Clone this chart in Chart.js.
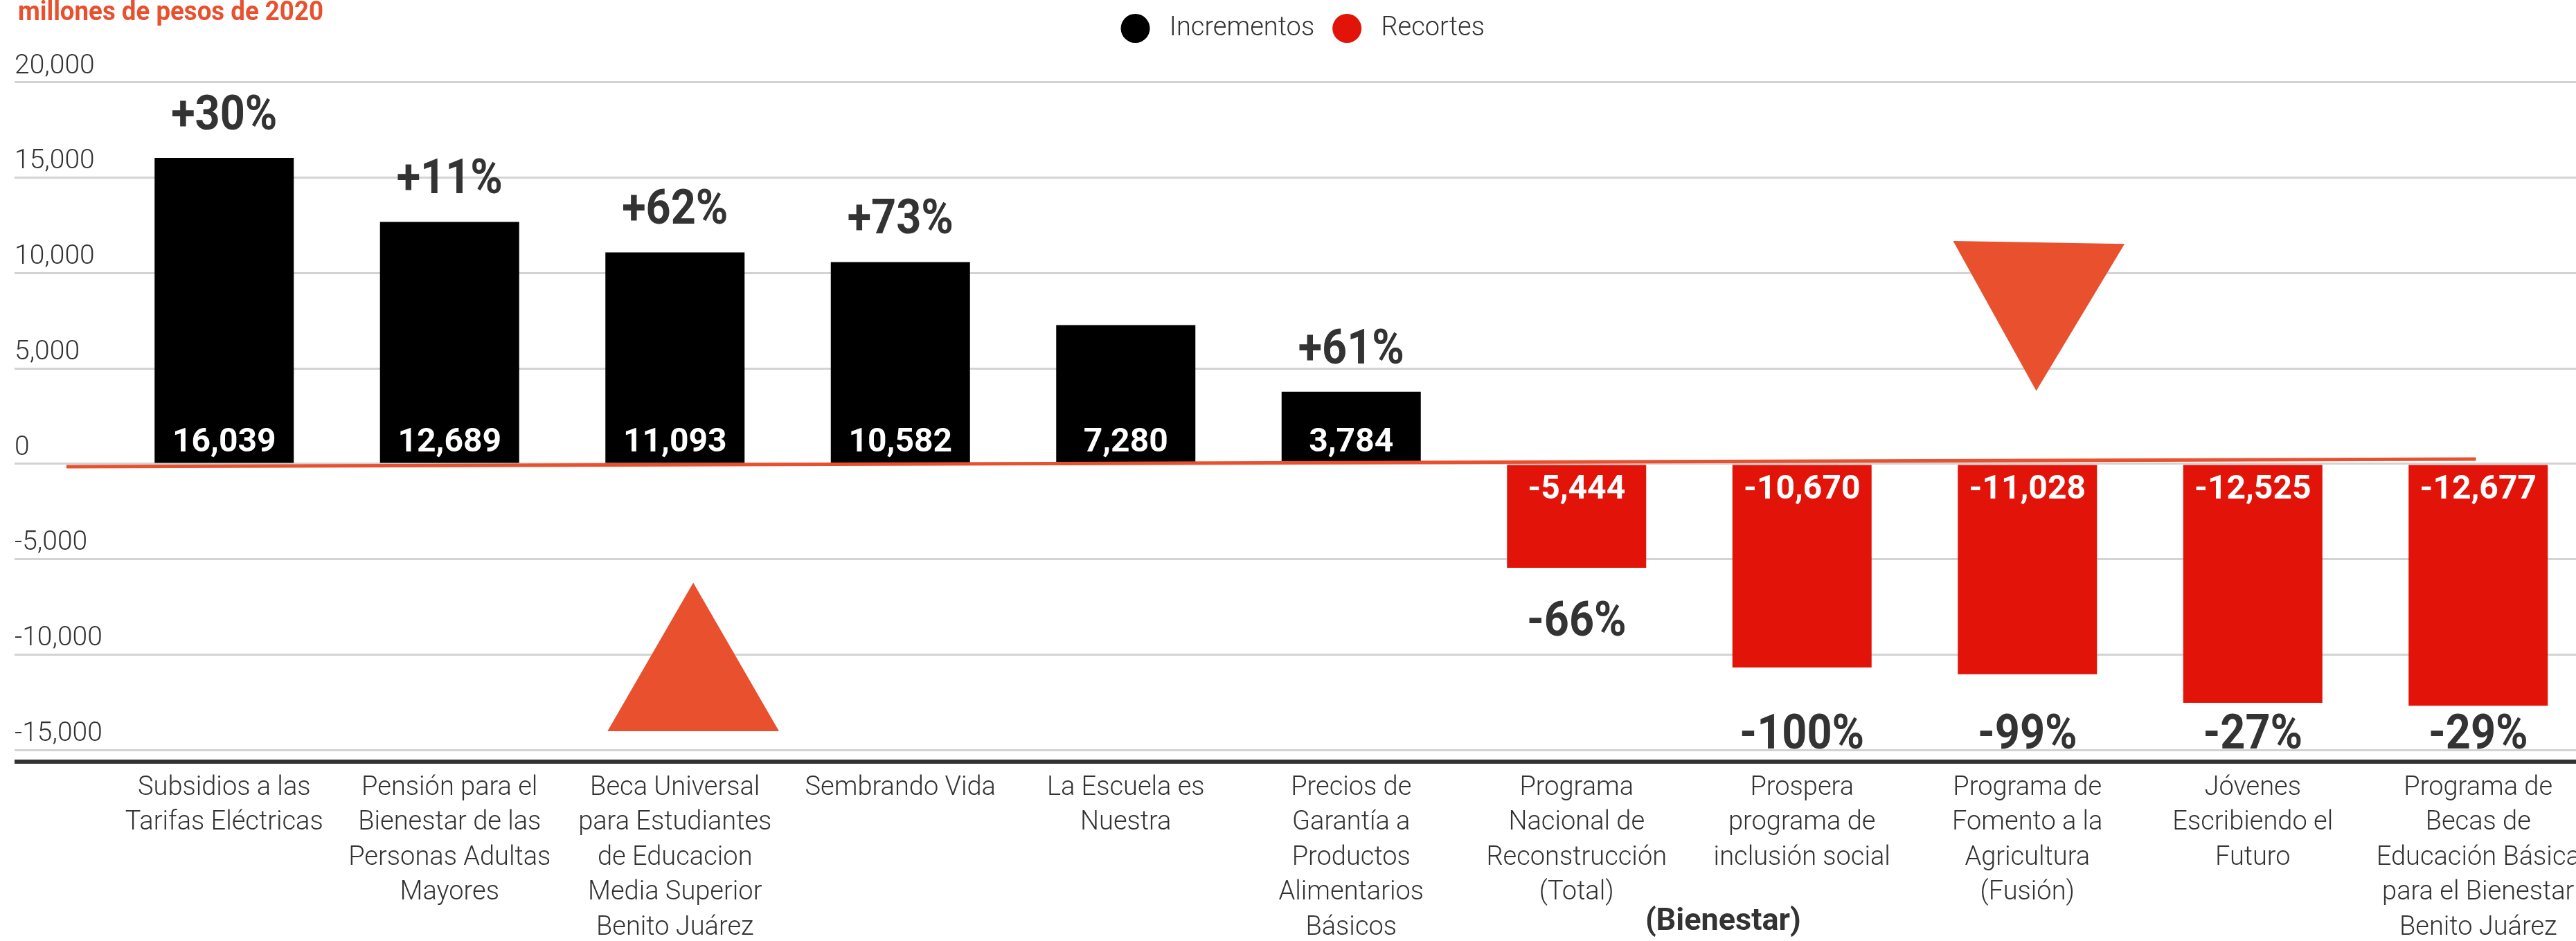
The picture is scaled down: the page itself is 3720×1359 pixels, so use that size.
<!DOCTYPE html>
<html>
<head>
<meta charset="utf-8">
<script src="https://cdn.jsdelivr.net/npm/chart.js@4.4.1/dist/chart.umd.min.js"></script>
<style>
html,body{margin:0;padding:0;background:#fff;overflow:hidden;width:3720px;height:1359px}
canvas{display:block}
</style>
</head>
<body>
<canvas id="c" width="3760" height="1359"></canvas>
<script>
// ---------- data ----------
const categories = [
  ["Subsidios a las", "Tarifas Eléctricas"],
  ["Pensión para el", "Bienestar de las", "Personas Adultas", "Mayores"],
  ["Beca Universal", "para Estudiantes", "de Educacion", "Media Superior", "Benito Juárez"],
  ["Sembrando Vida"],
  ["La Escuela es", "Nuestra"],
  ["Precios de", "Garantía a", "Productos", "Alimentarios", "Básicos"],
  ["Programa", "Nacional de", "Reconstrucción", "(Total)"],
  ["Prospera", "programa de", "inclusión social"],
  ["Programa de", "Fomento a la", "Agricultura", "(Fusión)"],
  ["Jóvenes", "Escribiendo el", "Futuro"],
  ["Programa de", "Becas de", "Educación Básica", "para el Bienestar", "Benito Juárez"]
];
const values = [16039, 12689, 11093, 10582, 7280, 3784, -5444, -10670, -11028, -12525, -12677];
const percentLabels = ["+30%", "+11%", "+62%", "+73%", "", "+61%", "-66%", "-100%", "-99%", "-27%", "-29%"];
const seriesNames = ["Incrementos", "Recortes"];
const yTicks = [-15000, -10000, -5000, 0, 5000, 10000, 15000, 20000];
const unitNote = "millones de pesos de 2020";
const extraNote = "(Bienestar)";
const extraNoteAt = 6.65;               // category-index position of the note
const trendLine = [{x: -0.7, y: -145}, {x: 9.99, y: 254}];
const arrowMarks = [{x: 2.081, y: -11420}, {x: 8.047, y: 9016}];

// ---------- derived series ----------
const increments = values.map(v => v > 0 ? v : null);
const cuts = values.map(v => v < 0 ? v : null);

const Y_MIN = -15608, Y_MAX = 21778;
const ORANGE = '#E8502E', RED = '#E2140A', INK = '#333333';

function narrowText(ctx, text, x, y, sx) {
  ctx.save();
  ctx.translate(x, y);
  ctx.scale(sx, 1);
  ctx.fillText(text, 0, 0);
  ctx.restore();
}

const annotate = {
  id: 'annotate',
  afterDatasetsDraw(chart) {
    const ctx = chart.ctx, y = chart.scales.y, area = chart.chartArea;
    const zero = y.getPixelForValue(0);
    ctx.save();
    [0, 1].forEach(di => {
      const meta = chart.getDatasetMeta(di);
      meta.data.forEach((el, i) => {
        const v = chart.data.datasets[di].data[i];
        if (v === null || v === undefined) return;
        ctx.textAlign = 'center';
        ctx.textBaseline = 'alphabetic';
        ctx.fillStyle = '#ffffff';
        ctx.font = 'bold 48px Roboto, "Open Sans", sans-serif';
        ctx.fillText(v.toLocaleString('en-US'), el.x, v > 0 ? zero - 18 : zero + 50);
        const p = percentLabels[i];
        if (!p) return;
        ctx.fillStyle = INK;
        ctx.font = 'bold 70px Roboto, "Open Sans", sans-serif';
        let ty;
        if (v > 0) ty = el.y - 41;
        else {
          ty = el.y + 98;
          if (ty > area.bottom - 100) ty = area.bottom - 19;
        }
        narrowText(ctx, p, el.x, ty, 0.9);
      });
    });
    ctx.restore();
  },
  afterDraw(chart) {
    const ctx = chart.ctx, area = chart.chartArea;
    ctx.save();
    ctx.textAlign = 'left';
    ctx.textBaseline = 'alphabetic';
    ctx.fillStyle = ORANGE;
    ctx.font = 'bold 39px Roboto, "Open Sans", sans-serif';
    narrowText(ctx, unitNote, 26, 29, 0.94);
    ctx.textAlign = 'center';
    ctx.fillStyle = INK;
    ctx.font = 'bold 45px Roboto, "Open Sans", sans-serif';
    ctx.fillText(extraNote, chart.scales.x2.getPixelForValue(extraNoteAt), area.bottom + 243);
    ctx.restore();
  }
};

new Chart(document.getElementById('c'), {
  type: 'bar',
  data: {
    labels: categories,
    datasets: [
      { label: seriesNames[0], data: increments, backgroundColor: '#000000', borderWidth: 0,
        grouped: false, barPercentage: 0.6175, categoryPercentage: 1, order: 2 },
      { label: seriesNames[1], data: cuts, backgroundColor: RED, borderWidth: 0,
        grouped: false, barPercentage: 0.6175, categoryPercentage: 1, order: 2 },
      { type: 'line', label: 'eje', data: trendLine, xAxisID: 'x2', yAxisID: 'y',
        borderColor: ORANGE, borderWidth: 5, pointRadius: 0, fill: false, order: 0, clip: false },
      { type: 'scatter', label: 'flechas', data: arrowMarks, xAxisID: 'x2', yAxisID: 'y',
        pointStyle: 'triangle', pointRadius: 143, pointHoverRadius: 143,
        pointRotation: [0, 181], pointBackgroundColor: ORANGE, pointBorderWidth: 0,
        borderWidth: 0, order: 1, clip: false }
    ]
  },
  options: {
    responsive: false,
    animation: false,
    devicePixelRatio: 1,
    layout: { autoPadding: false, padding: { top: -4, left: 21, right: 18.5, bottom: 0 } },
    plugins: {
      tooltip: { enabled: false },
      legend: {
        display: true, position: 'top', align: 'center',
        labels: {
          usePointStyle: true, pointStyle: 'circle', pointStyleWidth: 42, boxHeight: 29.7,
          padding: 26, color: INK,
          font: { family: 'Roboto', size: 38, weight: '300' },
          filter: item => item.datasetIndex < 2,
          generateLabels: chart => Chart.defaults.plugins.legend.labels.generateLabels(chart)
            .map(l => Object.assign(l, { text: ' ' + l.text }))
        }
      }
    },
    scales: {
      x: {
        type: 'category',
        grid: { display: false, drawTicks: false },
        border: { display: false },
        ticks: {
          autoSkip: false, maxRotation: 0, minRotation: 0, padding: 13, color: INK,
          font: { family: 'Roboto', size: 38, weight: '300', lineHeight: 1.33 }
        },
        afterFit: s => { s.height = 259; }
      },
      x2: {
        type: 'linear', display: true, offset: false, min: -0.5, max: 10.5, position: 'bottom',
        grid: { display: false, drawTicks: false, offset: false },
        border: { display: false },
        ticks: { display: false },
        afterFit: s => { s.height = 0; }
      },
      y: {
        min: Y_MIN, max: Y_MAX,
        afterBuildTicks: s => { s.ticks = [Y_MIN].concat(yTicks).map(v => ({ value: v })); },
        afterFit: s => { s.width = 140; },
        border: { display: false },
        grid: {
          drawTicks: true, tickLength: 140,
          color: c => (c.tick && c.tick.value === Y_MIN) ? INK : '#d3d3d3',
          lineWidth: c => (c.tick && c.tick.value === Y_MIN) ? 6 : 3
        },
        ticks: {
          crossAlign: 'far', labelOffset: -23, padding: 0, color: INK,
          font: { family: 'Roboto', size: 39, weight: '300' },
          callback: v => v === Y_MIN ? '' : Number(v).toLocaleString('en-US')
        }
      }
    }
  },
  plugins: [annotate]
});
</script>
</body>
</html>
